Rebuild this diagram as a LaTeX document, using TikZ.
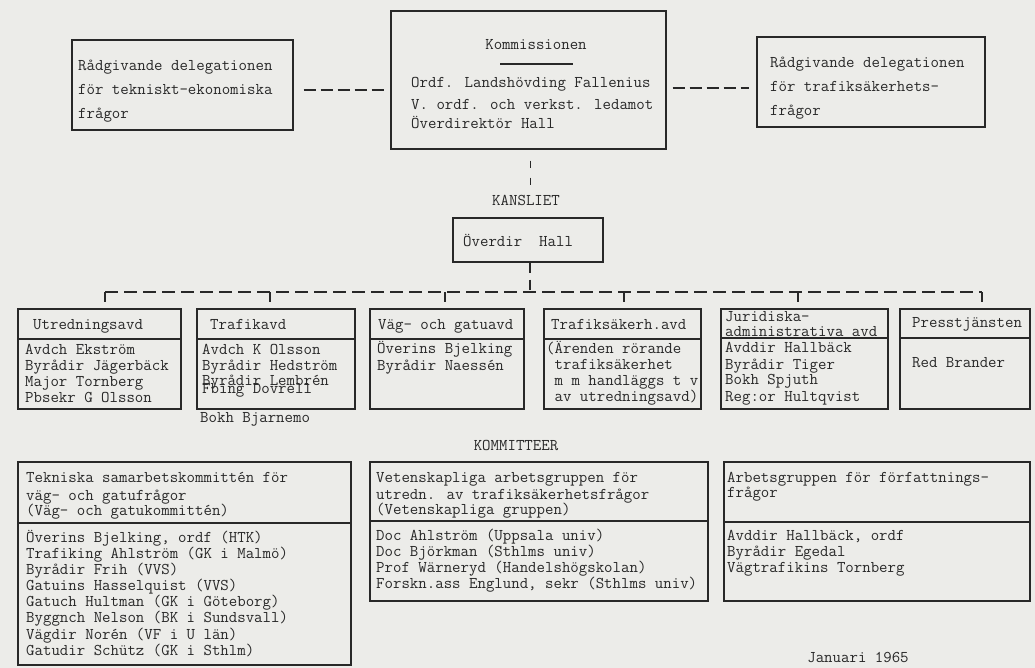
\documentclass[tikz,border=0pt]{standalone}
\usepackage{fontspec}
\usetikzlibrary{fit}
\definecolor{paper}{RGB}{236,236,233}
\definecolor{ink}{RGB}{40,40,40}
\newcommand\tlines[1]{\begin{tabular}[t]{@{}l@{}}#1\end{tabular}}
\begin{document}
\begin{tikzpicture}[x=1pt,y=-1pt,
  txt/.style={font=\fontsize{16.4}{16}\selectfont\ttfamily, text=ink, inner sep=0pt, anchor=base west},
  ctxt/.style={txt, anchor=base},
  wide/.style={font=\fontsize{16.4}{24}\selectfont\ttfamily},
  box/.style={draw=ink, line width=1.4pt, inner sep=0pt},
  sep/.style={draw=ink, line width=1.2pt},
  hdash/.style={draw=ink, line width=1.6pt, dash pattern=on 12pt off 5pt},
  busdash/.style={draw=ink, line width=1.4pt, dash pattern=on 13pt off 6pt},
  vdash/.style={draw=ink, line width=1.2pt, dash pattern=on 7pt off 10pt},
  tick/.style={draw=ink, line width=1.3pt}
]
\fill[paper] (0,0) rectangle (1035,668);
\useasboundingbox (0,0) rectangle (1035,668);

% ---------- top row ----------
\node[box, fit={(72,40) (293,130)}] (tl) {};
\node[box, fit={(391,11) (666,149)}] (kom) {};
\node[box, fit={(757,37) (985,127)}] (tr) {};

\node[txt, wide] (tltext) at (78,71) {\tlines{Rådgivande delegationen\\för tekniskt-ekonomiska\\frågor}};
\node[txt, wide] (trtext) at (770,68) {\tlines{Rådgivande delegationen\\för trafiksäkerhets-\\frågor}};
\node[ctxt] (komtitle) at (536,50) {Kommissionen};
\draw[sep] (500,64) coordinate (rulea) -- (573,64) coordinate (ruleb);
\node[txt] (kombody) at (411,88) {\tlines{Ordf. Landshövding Fallenius\\[6pt]V. ordf. och verkst. ledamot\\[1pt]Överdirektör Hall}};

\draw[hdash, shorten <=10pt, shorten >=6pt] ([yshift=-5pt]tl.east) -- ([yshift=-5pt]tl.east -| kom.west);
\draw[hdash, shorten <=6pt, shorten >=7pt] ([yshift=-8pt]kom.east) -- ([yshift=-8pt]kom.east -| tr.west);

% ---------- kansliet ----------
\node[ctxt] (kans) at (526,206) {KANSLIET};
\draw[vdash, shorten <=11pt, shorten >=9pt] ([xshift=2pt]kom.south) -- ([xshift=2pt]kom.south |- kans.north);
\node[box, fit={(453,218) (603,262)}] (kh) {};
\node[txt] (khtext) at (463,247) {Överdir\ \ Hall};

% ---------- bus ----------
\coordinate (t1) at (105,292);
\coordinate (t2) at (270,292);
\coordinate (t3) at (445,292);
\coordinate (t4) at (624,292);
\coordinate (t5) at (798,292);
\coordinate (t6) at (982,292);
\draw[busdash] (t1) -- (t6);
\draw[draw=ink, line width=1.3pt, dash pattern=on 10pt off 7pt] ([xshift=2pt]kh.south) -- ([xshift=2pt]kh.south |- t1);
\foreach \t in {t1,t2,t3,t4,t5,t6} \draw[tick] (\t) -- ++(0,10);

% ---------- department boxes ----------
\node[box, fit={(18,309) (181,409)}] (b1) {};
\node[box, fit={(197,309) (355,409)}] (b2) {};
\node[box, fit={(370,309) (524,409)}] (b3) {};
\node[box, fit={(544,309) (701,409)}] (b4) {};
\node[box, fit={(721,309) (888,409)}] (b5) {};
\node[box, fit={(900,309) (1030,409)}] (b6) {};
\draw[sep] (b1.west |- 0,339) -- (b1.east |- 0,339);
\draw[sep] (b2.west |- 0,339) -- (b2.east |- 0,339);
\draw[sep] (b3.west |- 0,339) -- (b3.east |- 0,339);
\draw[sep] (b4.west |- 0,339) -- (b4.east |- 0,339);
\draw[sep] (b5.west |- 0,338) -- (b5.east |- 0,338);
\draw[sep] (b6.west |- 0,338) -- (b6.east |- 0,338);

\node[txt] (h1) at (33,329) {Utredningsavd};
\node[txt] (h2) at (210,329) {Trafikavd};
\node[txt] (h3) at (378,329) {Väg- och gatuavd};
\node[txt] (h4) at (551,329) {Trafiksäkerh.avd};
\node[txt] (h5) at (725,321) {\tlines{Juridiska-\\[-1pt]administrativa avd}};
\node[txt] (h6) at (912,327) {Presstjänsten};

\node[txt] (p1) at (25,354) {\tlines{Avdch Ekström\\Byrådir Jägerbäck\\Major Tornberg\\Pbsekr G Olsson}};
\node[txt] (p2) at (202,354) {\tlines{Avdch K Olsson\\Byrådir Hedström\\[-1pt]Byrådir Lembrén}};
\node[txt] (p2b) at (202,393) {Fbing Dovrell};
\node[txt] (p2c) at (200,422) {Bokh Bjarnemo};
\node[txt] (p3) at (377,353) {\tlines{Överins Bjelking\\[1pt]Byrådir Naessén}};
\node[txt] (p4) at (546,353) {\tlines{(Ärenden rörande\\\phantom{(}trafiksäkerhet\\\phantom{(}m m handläggs t v\\\phantom{(}av utredningsavd)}};
\node[txt] (p5) at (725,352) {\tlines{Avddir Hallbäck\\[1pt]Byrådir Tiger\\[-1pt]Bokh Spjuth\\[1pt]Reg:or Hultqvist}};
\node[txt] (p6) at (912,367) {Red Brander};

% ---------- committees ----------
\node[ctxt] (komm) at (516,450) {KOMMITTEER};

\node[box, fit={(18,462) (351,665)}] (ca) {};
\node[box, fit={(370,462) (708,601)}] (cb) {};
\node[box, fit={(724,462) (1030,601)}] (cc) {};
\draw[sep] (ca.west |- 0,523) -- (ca.east |- 0,523);
\draw[sep] (cb.west |- 0,521) -- (cb.east |- 0,521);
\draw[sep] (cc.west |- 0,522) -- (cc.east |- 0,522);

\node[txt] (cah) at (26,482) {\tlines{Tekniska samarbetskommittén för\\[2pt]väg- och gatufrågor\\[-1pt](Väg- och gatukommittén)}};
\node[txt] (cab) at (26,542) {\tlines{Överins Bjelking, ordf (HTK)\\Trafiking Ahlström (GK i Malmö)\\Byrådir Frih (VVS)\\Gatuins Hasselquist (VVS)\\Gatuch Hultman (GK i Göteborg)\\Byggnch Nelson (BK i Sundsvall)\\Vägdir Norén (VF i U län)\\Gatudir Schütz (GK i Sthlm)}};

\node[txt] (cbh) at (376,482) {\tlines{Vetenskapliga arbetsgruppen för\\[1pt]utredn. av trafiksäkerhetsfrågor\\[-1pt](Vetenskapliga gruppen)}};
\node[txt] (cbb) at (376,540) {\tlines{Doc Ahlström (Uppsala univ)\\Doc Björkman (Sthlms univ)\\Prof Wärneryd (Handelshögskolan)\\Forskn.ass Englund, sekr (Sthlms univ)}};

\node[txt] (cch) at (727,482) {\tlines{Arbetsgruppen för författnings-\\[-1pt]frågor}};
\node[txt] (ccb) at (727,540) {\tlines{Avddir Hallbäck, ordf\\Byrådir Egedal\\Vägtrafikins Tornberg}};

\node[ctxt] (date) at (858,662) {Januari 1965};
\end{tikzpicture}
\end{document}
